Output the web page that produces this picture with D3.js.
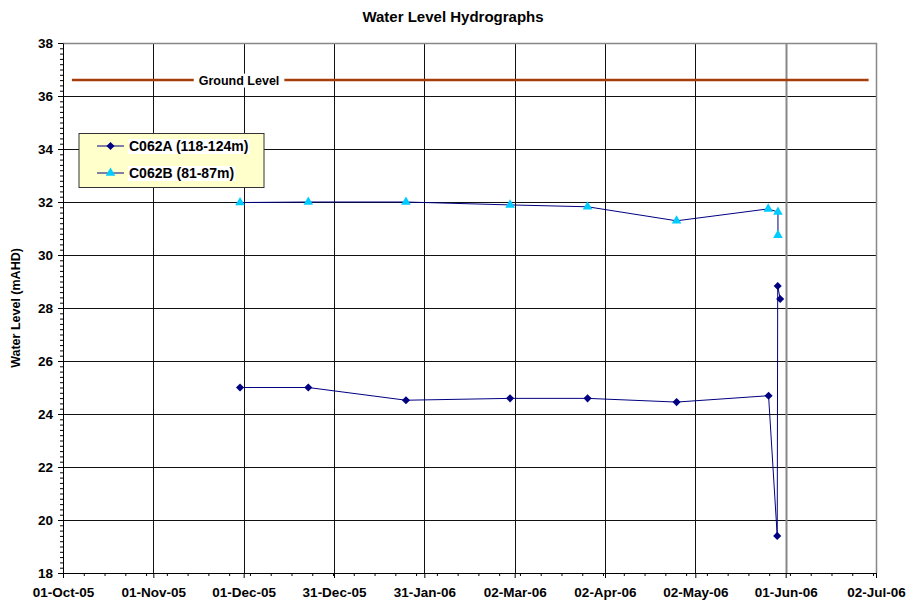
<!DOCTYPE html>
<html><head><meta charset="utf-8">
<script src="https://cdn.jsdelivr.net/npm/d3@7"></script>
<style>
body{margin:0;background:#fff}
text{font-family:"Liberation Sans",Arial,sans-serif;font-weight:bold;fill:#000}
</style>
</head><body>
<svg id="chart" width="908" height="606"></svg>
<script>
const xTickLabels = ["01-Oct-05","01-Nov-05","01-Dec-05","31-Dec-05","31-Jan-06","02-Mar-06","02-Apr-06","02-May-06","01-Jun-06","02-Jul-06"];
const yTickValues = [18,20,22,24,26,28,30,32,34,36,38];

const seriesAName = "C062A (118-124m)";
const datesA = ["2005-11-29T16:00","2005-12-22T16:00","2006-01-24T14:00","2006-02-28T16:00","2006-03-26T19:00","2006-04-25T19:00","2006-05-26T19:00","2006-05-29T17:00","2006-05-29T21:00","2006-05-30T17:00"];
const levelsA = [25.0,25.0,24.52,24.59,24.59,24.45,24.69,19.4,28.83,28.34];

const seriesBName = "C062B (81-87m)";
const datesB = ["2005-11-29T16:00","2005-12-22T16:00","2006-01-24T14:00","2006-02-28T16:00","2006-03-26T19:00","2006-04-25T19:00","2006-05-26T16:00","2006-05-29T23:00","2006-05-29T23:00"];
const levelsB = [31.98,32.0,32.0,31.89,31.82,31.29,31.74,31.62,30.75];

const groundDates = ["2005-10-04T00:00","2006-06-29T12:00"];
const groundLevels = [36.6,36.6];
const groundLabel = "Ground Level";
const groundLabelDate = "2005-11-29T08:00";

const parse = s => new Date(s + "Z");
const svg = d3.select("#chart");
const L = 63, R = 876, T = 43, B = 573;
const xStart = parse("2005-10-01T00:00"), xEnd = parse("2006-07-02T00:00");
const x = d3.scaleUtc().domain([xStart, xEnd]).range([L, R]);
const y = d3.scaleLinear().domain([18, 38]).range([B, T]);

const span = xEnd - xStart;
const xTickValues = xTickLabels.map((_, i) => new Date(xStart.getTime() + i * span / (xTickLabels.length - 1)));
const dayMs = 86400000;
const xMinor = d3.range(xStart.getTime(), xEnd.getTime() + 1, 7 * dayMs).map(t => new Date(t));
const yMinor = d3.range(18, 38.001, 0.2);

// title
svg.append("text").attr("x", 453).attr("y", 22).attr("text-anchor", "middle")
  .style("font-size", "15px").text("Water Level Hydrographs");

// gridlines
const grid = svg.append("g");
grid.selectAll("line.h").data(yTickValues.filter(v => v > 18 && v < 38)).join("line")
  .attr("x1", L).attr("x2", R).attr("y1", d => Math.round(y(d)) + 0.5).attr("y2", d => Math.round(y(d)) + 0.5)
  .attr("stroke", "#111").attr("stroke-width", 1);
grid.selectAll("line.v").data(xTickValues.slice(1, -1)).join("line")
  .attr("x1", d => Math.round(x(d)) + 0.5).attr("x2", d => Math.round(x(d)) + 0.5).attr("y1", T).attr("y2", B)
  .attr("stroke", (d, i) => i === 7 ? "#888" : "#111").attr("stroke-width", (d, i) => i === 7 ? 2 : 1);
// plot border (top/right)
svg.append("path").attr("d", `M${L},${T + 0.5}H${R + 0.5}V${B}`).attr("fill", "none").attr("stroke", "#888").attr("stroke-width", 1.5);

// axes
const xAxis = d3.axisBottom(x).tickValues(xTickValues).tickFormat((d, i) => xTickLabels[i]).tickSize(5).tickSizeOuter(0);
const gx = svg.append("g").attr("transform", `translate(0,${B})`).call(xAxis);
gx.selectAll("text").attr("y", 24).attr("dy", 0).style("font-size", "13.5px");
gx.select(".domain").attr("stroke", "#000");
svg.append("g").attr("transform", `translate(0,${B})`)
  .call(d3.axisBottom(x).tickValues(xMinor).tickFormat("").tickSize(3).tickSizeOuter(0))
  .select(".domain").remove();

const yAxis = d3.axisLeft(y).tickValues(yTickValues).tickSize(5).tickSizeOuter(0);
const gy = svg.append("g").attr("transform", `translate(${L},0)`).call(yAxis);
gy.selectAll("text").attr("x", -10).style("font-size", "13.5px");
svg.append("g").attr("transform", `translate(${L},0)`)
  .call(d3.axisLeft(y).tickValues(yMinor).tickFormat("").tickSize(3).tickSizeOuter(0))
  .select(".domain").remove();

svg.append("text").attr("transform", `translate(20,${(T + B) / 2}) rotate(-90)`)
  .attr("text-anchor", "middle").style("font-size", "12.5px").text("Water Level (mAHD)");

// ground level
const gl = d3.line().x(d => x(parse(d[0]))).y(d => y(d[1]));
svg.append("path").datum(groundDates.map((d, i) => [d, groundLevels[i]]))
  .attr("d", gl).attr("fill", "none").attr("stroke", "#A63D0B").attr("stroke-width", 2.5);
const glt = svg.append("text").attr("x", x(parse(groundLabelDate))).attr("y", y(groundLevels[0]) + 4.5)
  .attr("text-anchor", "middle").style("font-size", "12.5px").text(groundLabel);
const gb = glt.node().getBBox();
svg.insert("rect", () => glt.node()).attr("x", gb.x - 5).attr("y", gb.y).attr("width", gb.width + 10).attr("height", gb.height).attr("fill", "#fff");

// series
const line = d3.line().x(d => x(d.date)).y(d => y(d.v));
const dataA = datesA.map((d, i) => ({date: parse(d), v: levelsA[i]}));
const dataB = datesB.map((d, i) => ({date: parse(d), v: levelsB[i]}));
const navy = "#000080", cyan = "#00CCFF";
svg.append("path").datum(dataB).attr("d", line).attr("fill", "none").attr("stroke", navy).attr("stroke-width", 1);
svg.append("path").datum(dataA).attr("d", line).attr("fill", "none").attr("stroke", navy).attr("stroke-width", 1);
const diamond = d3.symbol().type(d3.symbolDiamond2).size(42);
const triangle = d3.symbol().type(d3.symbolTriangle).size(40);
svg.append("g").selectAll("path").data(dataA).join("path")
  .attr("transform", d => `translate(${x(d.date)},${y(d.v)})`).attr("d", diamond).attr("fill", navy);
svg.append("g").selectAll("path").data(dataB).join("path")
  .attr("transform", d => `translate(${x(d.date)},${y(d.v)})`).attr("d", triangle).attr("fill", cyan);

// legend
const lg = svg.append("g");
lg.append("rect").attr("x", 79).attr("y", 133.5).attr("width", 185).attr("height", 54)
  .attr("fill", "#FFFFCC").attr("stroke", "#333").attr("stroke-width", 1);
const entries = [{name: seriesAName, sym: diamond, fill: navy, cy: 146}, {name: seriesBName, sym: triangle, fill: cyan, cy: 173}];
entries.forEach(e => {
  lg.append("line").attr("x1", 97).attr("x2", 124).attr("y1", e.cy).attr("y2", e.cy).attr("stroke", navy).attr("stroke-width", 1);
  lg.append("path").attr("transform", `translate(110.5,${e.cy})`).attr("d", e.sym()).attr("fill", e.fill);
  const t = lg.append("text").attr("x", 129).attr("y", e.cy + 5).style("font-size", "14px").text(e.name);
  const b = t.node().getBBox();
  lg.insert("rect", () => t.node()).attr("x", b.x - 1).attr("y", b.y + 1).attr("width", b.width + 2).attr("height", b.height - 1).attr("fill", "#fff");
});
</script>
</body></html>
